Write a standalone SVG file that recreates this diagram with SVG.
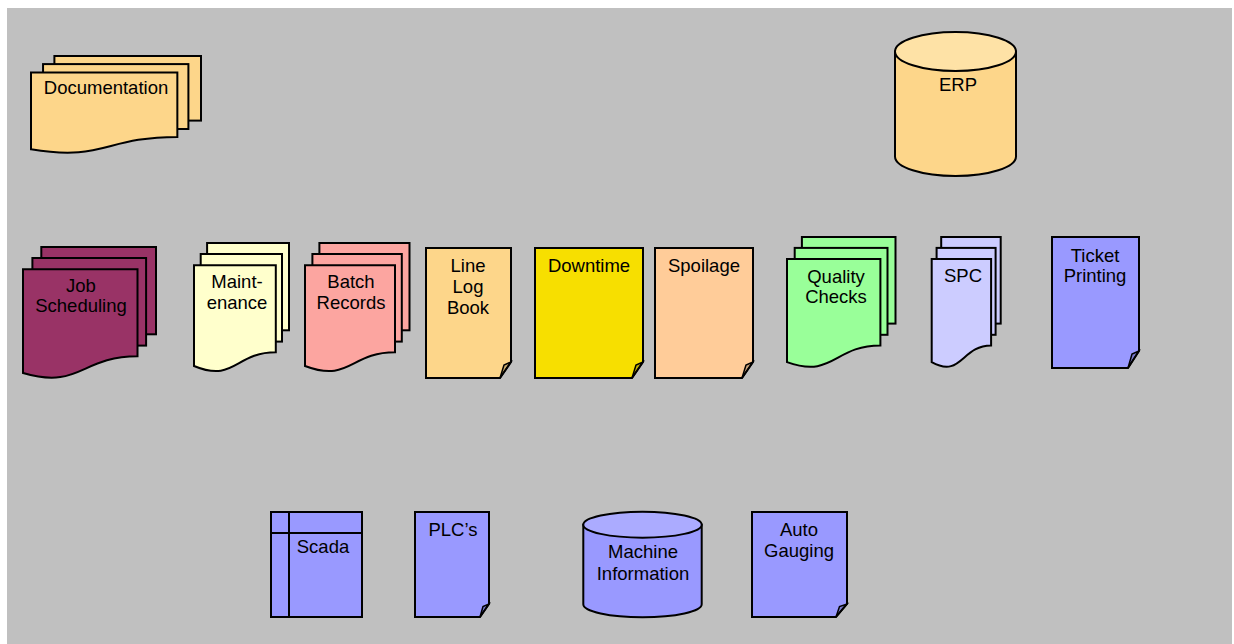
<svg xmlns="http://www.w3.org/2000/svg" width="1234" height="644" viewBox="0 0 1234 644">
<style>
.s{stroke:#000;stroke-width:2;stroke-linejoin:miter}
.t{font-family:"Liberation Sans",Arial,sans-serif;font-size:18.5px;text-anchor:middle;fill:#000}
.flap{fill:#000;fill-opacity:0.2;stroke:#000;stroke-width:1.5}
.org{fill:#FDD68A}
.orgT{fill:#FEE2A6}
.plum{fill:#993366}
.ivory{fill:#FFFFCC}
.pink{fill:#FCA5A0}
.yel{fill:#F7DF00}
.peach{fill:#FFCC99}
.green{fill:#99FF99}
.lav{fill:#CCCCFF}
.blue{fill:#9999FF}
.blueT{fill:#ABABFF}
</style>
<rect x="7" y="8" width="1225" height="640" fill="#C0C0C0"/>
<g id="connectors"></g>

<g id="documentation">
<rect class="s org" x="54.4" y="56" width="146.6" height="64.6"/>
<rect class="s org" x="43.05" y="64.1" width="145.35" height="64.9"/>
<path class="s org" d="M31,72.5 H177.35 V136.9 C104.2,136.9 104.2,161.7 31,149.3 Z"/>
<text class="t" x="106" y="93.5">Documentation</text>
</g>

<g id="erp">
<path class="s org" d="M895,51.5 V156.5 A60.5,19.5 0 0 0 1016,156.5 V51.5 Z"/>
<ellipse class="s orgT" cx="955.5" cy="51.5" rx="60.5" ry="19.5"/>
<text class="t" x="958" y="91">ERP</text>
</g>

<g id="job-scheduling">
<rect class="s plum" x="41.3" y="247" width="114.7" height="87.3"/>
<rect class="s plum" x="32.4" y="258" width="113.7" height="87.6"/>
<path class="s plum" d="M23,269.3 H137.5 V356.3 C80.3,356.3 80.3,389.8 23,373 Z"/>
<text class="t" x="81" y="292">Job</text>
<text class="t" x="81" y="312">Scheduling</text>
</g>

<g id="maintenance">
<rect class="s ivory" x="207.1" y="243" width="81.9" height="87.3"/>
<rect class="s ivory" x="200.7" y="254" width="81.3" height="87.6"/>
<path class="s ivory" d="M194,265.3 H275.8 V352.3 C234.9,352.3 234.9,383 194,366 Z"/>
<text class="t" x="237" y="288">Maint-</text>
<text class="t" x="237" y="309">enance</text>
</g>

<g id="batch-records">
<rect class="s pink" x="319.4" y="243" width="90.1" height="87.3"/>
<rect class="s pink" x="312.4" y="254" width="89.4" height="87.6"/>
<path class="s pink" d="M305,265.3 H395 V352.3 C350,352.3 350,383 305,366 Z"/>
<text class="t" x="351" y="288">Batch</text>
<text class="t" x="351" y="309">Records</text>
</g>

<g id="line-log-book">
<path class="s org" d="M426,248 H511 V362 L500,378 H426 Z"/>
<path class="flap" d="M500,378 L504,365 L511,362 Z"/>
<text class="t" x="468" y="272">Line</text>
<text class="t" x="468" y="293">Log</text>
<text class="t" x="468" y="314">Book</text>
</g>

<g id="downtime">
<path class="s yel" d="M535,248 H643 V362 L632,378 H535 Z"/>
<path class="flap" d="M632,378 L636,365 L643,362 Z"/>
<text class="t" x="589" y="272">Downtime</text>
</g>

<g id="spoilage">
<path class="s peach" d="M655,248 H753 V362 L742,378 H655 Z"/>
<path class="flap" d="M742,378 L746,365 L753,362 Z"/>
<text class="t" x="704" y="272">Spoilage</text>
</g>

<g id="quality-checks">
<rect class="s green" x="801.9" y="237" width="93.6" height="86.6"/>
<rect class="s green" x="794.7" y="247.9" width="92.8" height="86.9"/>
<path class="s green" d="M787,259.1 H880.4 V345.5 C833.7,345.5 833.7,378.7 787,362.1 Z"/>
<text class="t" x="836" y="283">Quality</text>
<text class="t" x="836" y="303">Checks</text>
</g>

<g id="spc">
<rect class="s lav" x="941.2" y="237" width="59.5" height="86.6"/>
<rect class="s lav" x="936.6" y="247.9" width="59" height="86.9"/>
<path class="s lav" d="M931.7,259.1 H991.1 V345.5 C961.4,345.5 961.4,378.7 931.7,362.1 Z"/>
<text class="t" x="963" y="282">SPC</text>
</g>

<g id="ticket-printing">
<path class="s blue" d="M1052,237 H1139 V351 L1128,368 H1052 Z"/>
<path class="flap" d="M1128,368 L1132,354 L1139,351 Z"/>
<text class="t" x="1095" y="262">Ticket</text>
<text class="t" x="1095" y="282">Printing</text>
</g>

<g id="scada">
<rect class="s blue" x="271" y="512" width="91" height="105"/>
<line class="s" x1="289" y1="512" x2="289" y2="617"/>
<line class="s" x1="271" y1="533" x2="362" y2="533"/>
<text class="t" x="323" y="553">Scada</text>
</g>

<g id="plcs">
<path class="s blue" d="M415,512 H489 V604 L480,617 H415 Z"/>
<path class="flap" d="M480,617 L483,606.5 L489,604 Z"/>
<text class="t" x="453" y="536">PLC’s</text>
</g>

<g id="machine-information">
<path class="s blue" d="M583.3,524.7 V604.3 A59.2,13 0 0 0 701.7,604.3 V524.7 Z"/>
<ellipse class="s blueT" cx="642.5" cy="524.7" rx="59.2" ry="13"/>
<text class="t" x="643" y="558">Machine</text>
<text class="t" x="643" y="580">Information</text>
</g>

<g id="auto-gauging">
<path class="s blue" d="M752,512 H847 V604 L836,617 H752 Z"/>
<path class="flap" d="M836,617 L839.5,606.5 L847,604 Z"/>
<text class="t" x="799" y="536">Auto</text>
<text class="t" x="799" y="557">Gauging</text>
</g>
</svg>
